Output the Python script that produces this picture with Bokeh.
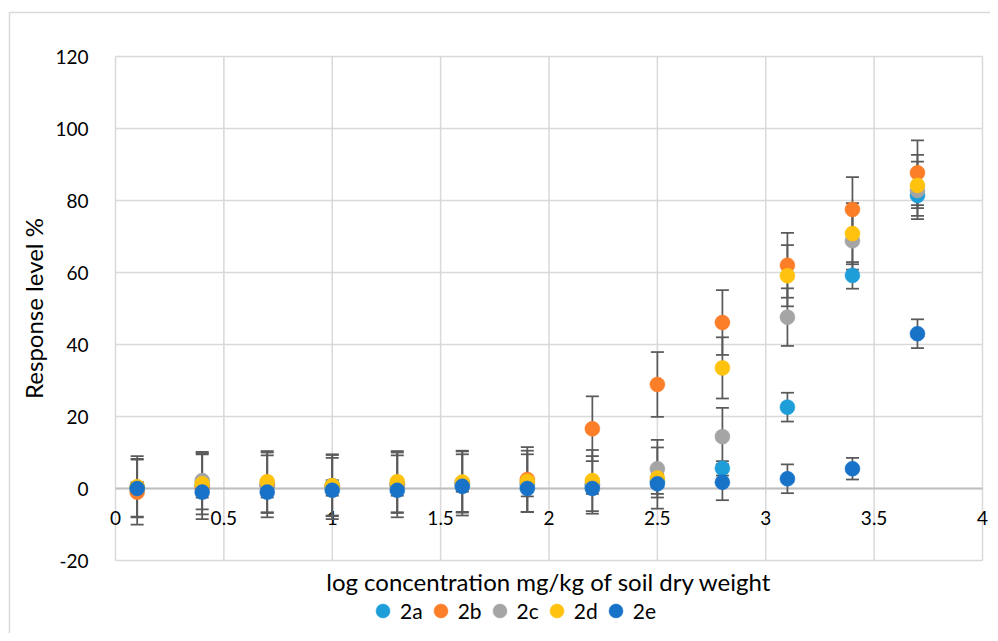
import math
from bokeh.plotting import figure
from bokeh.models import (ColumnDataSource, Whisker, TeeHead, Legend, LegendItem, Label,
                          FixedTicker, NumeralTickFormatter, Range1d)
from bokeh.embed import file_html
from bokeh.resources import INLINE

# ---------------- data ----------------
log_conc = [0.1, 0.4, 0.7, 1.0, 1.3, 1.6, 1.9, 2.2, 2.5, 2.8, 3.1, 3.4, 3.7]
series_names = ["2a", "2b", "2c", "2d", "2e"]
resp_2a = [0.3, 0.8, 0.9, 0.8, 1.0, 1.2, 1.0, 1.0, 2.0, 5.6, 22.6, 59.2, 81.4]
resp_2b = [-1.0, 0.5, 1.0, 0.5, 1.0, 1.5, 2.5, 16.6, 28.9, 46.1, 62.0, 77.5, 87.7]
resp_2c = [0.2, 2.2, 1.2, 0.5, 1.2, 1.5, 1.5, 1.0, 5.5, 14.4, 47.6, 68.8, 82.8]
resp_2d = [0.5, 1.3, 1.9, 0.8, 1.9, 1.8, 2.0, 2.2, 2.9, 33.5, 59.1, 70.8, 84.2]
resp_2e = [0.0, -1.0, -1.0, -0.5, -0.5, 0.6, 0.0, 0.0, 1.3, 1.75, 2.7, 5.5, 43.0]
err_2a = [1.5, 1.5, 1.5, 1.5, 1.5, 1.5, 1.5, 1.5, 1.5, 2.0, 4.0, 3.7, 3.5]
err_2b = [9.0, 9.0, 9.0, 9.0, 9.0, 9.0, 9.0, 9.0, 9.0, 9.0, 9.0, 9.0, 9.0]
err_2c = [8.0, 8.0, 8.0, 8.0, 8.0, 8.0, 8.0, 8.0, 8.0, 8.0, 8.0, 8.0, 8.0]
err_2d = [8.5, 8.5, 8.5, 8.5, 8.5, 8.5, 8.5, 8.5, 8.5, 8.5, 8.5, 8.5, 8.5]
err_2e = [1.5, 1.5, 1.5, 1.5, 1.5, 1.5, 2.2, 1.5, 2.8, 5.0, 4.0, 3.0, 4.0]
x_ticks = [0, 0.5, 1, 1.5, 2, 2.5, 3, 3.5, 4]
y_ticks = [-20, 0, 20, 40, 60, 80, 100, 120]
x_title = "log concentration mg/kg of soil dry weight"
y_title = "Response level %"

series_values = [resp_2a, resp_2b, resp_2c, resp_2d, resp_2e]
series_errors = [err_2a, err_2b, err_2c, err_2d, err_2e]
colors = ["#1E9ED9", "#FD7E28", "#A5A5A5", "#FFC20E", "#1872C8"]

FONT = "Lato"
GRID = "#d9d9d9"

# layout (canvas pixels): plot area x 0..4 -> 115..982, y 120..-20 -> 56..560
W, H = 990, 633
PX0, PX4 = 115, 982
PY0 = 488            # pixel row of y = 0
xpx = (PX4 - PX0) / 4.0
ypx = 3.6


def xd(px):
    return (px - PX0) / xpx


def yd(py):
    return (PY0 - py) / ypx


# the frame covers the whole canvas so that titles and legend are not clipped
p = figure(width=W, height=H, output_backend="svg", toolbar_location=None,
           x_range=Range1d(xd(0), xd(W)), y_range=Range1d(yd(H), yd(0)),
           min_border_left=0, min_border_right=0, min_border_top=0, min_border_bottom=0)
p.background_fill_color = "white"
p.border_fill_color = "white"
p.outline_line_color = None
p.xgrid.grid_line_color = None
p.ygrid.grid_line_color = None

# chart-area border: only its left and top edges fall inside the window
p.segment(x0=[xd(9), xd(9)], x1=[xd(W + 20), xd(9)],
          y0=[yd(12), yd(12)], y1=[yd(12), yd(H + 20)],
          line_color="#d9d9d9", line_width=1.5, level="underlay")

# grid lines limited to the plot area
p.segment(x0=x_ticks, x1=x_ticks, y0=[y_ticks[0]] * len(x_ticks), y1=[y_ticks[-1]] * len(x_ticks),
          line_color=GRID, line_width=1.5, level="underlay")
p.segment(x0=[x_ticks[0]] * len(y_ticks), x1=[x_ticks[-1]] * len(y_ticks),
          y0=y_ticks, y1=y_ticks, line_color=GRID, line_width=1.5, level="underlay")

# x axis crossing at y = 0
xa = p.xaxis[0]
xa.ticker = FixedTicker(ticks=x_ticks)
xa.formatter = NumeralTickFormatter(format="0.[0]")
xa.fixed_location = 0
xa.bounds = (x_ticks[0], x_ticks[-1])
xa.axis_line_color = "#bfbfbf"
xa.axis_line_width = 2
xa.major_tick_line_color = None
xa.minor_tick_line_color = None
xa.major_label_standoff = 16
xa.major_label_text_font = FONT
xa.major_label_text_font_size = "19px"
xa.major_label_text_color = "#000000"
xa.level = "underlay"

# y axis at x = 0
ya = p.yaxis[0]
ya.ticker = FixedTicker(ticks=y_ticks)
ya.formatter = NumeralTickFormatter(format="0")
ya.fixed_location = 0
ya.bounds = (y_ticks[0], y_ticks[-1])
ya.axis_line_color = None
ya.major_tick_line_color = None
ya.minor_tick_line_color = None
ya.major_label_standoff = 21
ya.major_label_text_font = FONT
ya.major_label_text_font_size = "19px"
ya.major_label_text_color = "#000000"
ya.level = "underlay"

# axis titles
p.add_layout(Label(x=(x_ticks[0] + x_ticks[-1]) / 2, y=yd(581), text=x_title,
                   text_align="center", text_baseline="middle",
                   text_font=FONT, text_font_size="24px", text_color="#000000"))
p.add_layout(Label(x=xd(33), y=(y_ticks[0] + y_ticks[-1]) / 2, text=y_title, angle=math.pi / 2,
                   text_align="center", text_baseline="middle",
                   text_font=FONT, text_font_size="24px", text_color="#000000"))

# error bars
for vals, errs in zip(series_values, series_errors):
    src = ColumnDataSource(dict(x=log_conc,
                                upper=[v + e for v, e in zip(vals, errs)],
                                lower=[v - e for v, e in zip(vals, errs)]))
    w = Whisker(source=src, base="x", upper="upper", lower="lower", dimension="height",
                line_color="#5a5a5a", line_width=1.75,
                upper_head=TeeHead(size=13, line_color="#5a5a5a", line_width=1.75),
                lower_head=TeeHead(size=13, line_color="#5a5a5a", line_width=1.75))
    w.level = "underlay"
    p.add_layout(w)

# markers
items = []
for name, vals, col in zip(series_names, series_values, colors):
    src = ColumnDataSource(dict(x=log_conc, y=vals))
    r = p.scatter("x", "y", source=src, size=15, marker="circle",
                  fill_color=col, line_color=col, line_width=0.5)
    items.append(LegendItem(label=name, renderers=[r]))

legend = Legend(items=items, orientation="horizontal", location=(365, 5),
                border_line_color=None, background_fill_alpha=0,
                padding=0, margin=0, spacing=0, label_standoff=0,
                glyph_width=35, glyph_height=35,
                label_text_font=FONT, label_text_font_size="21px",
                label_text_color="#000000")
p.add_layout(legend, "center")

open("out.html", "w").write(file_html(p, INLINE))
